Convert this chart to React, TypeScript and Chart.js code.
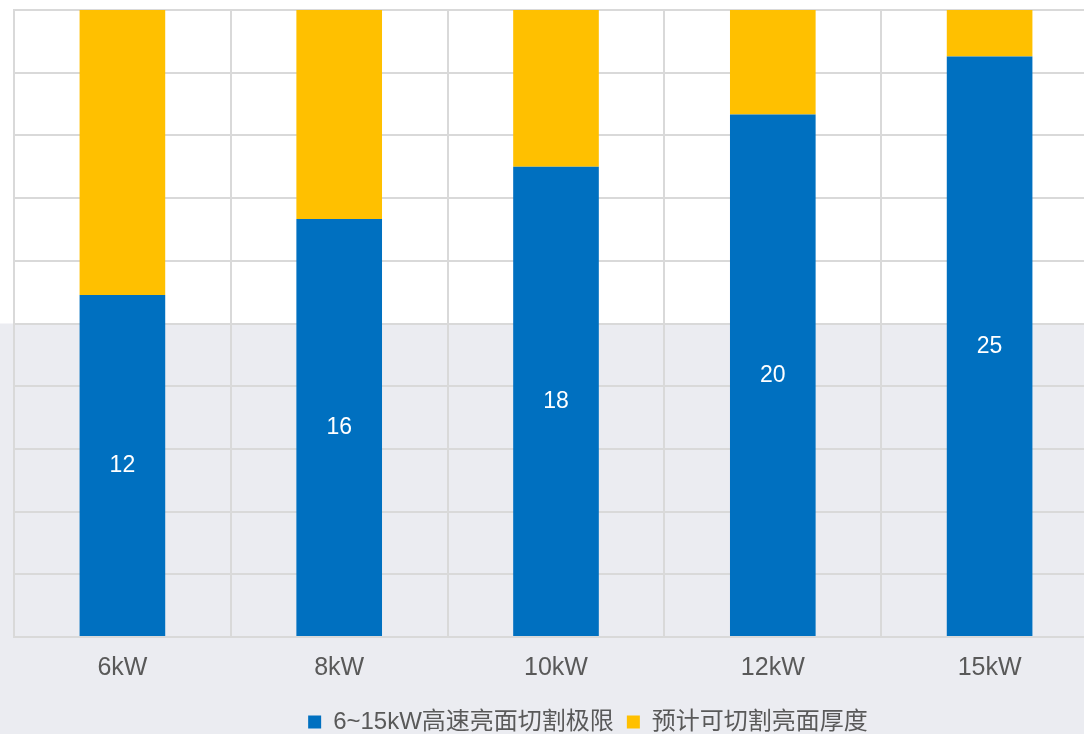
import React, { useEffect, useRef } from "react";
import { Chart, registerables } from "chart.js";

Chart.register(...registerables);

const categories = ["6kW", "8kW", "10kW", "12kW", "15kW"];
const highSpeedLimit = [12, 16, 18, 20, 25];
const expectedExtra = [10, 8, 6, 4, 2];
const seriesNames = ["6~15kW高速亮面切割极限", "预计可切割亮面厚度"];
const seriesColors = ["#0070C0", "#FFC000"];

const toShare = (part: number[], other: number[]) =>
  part.map((v, i) => (v / (v + other[i])) * 100);

const FONT = '"Liberation Sans", Arial, "Noto Sans CJK SC", sans-serif';
const GRID = "#d9d9d9";
const TEXT = "#595959";

export default function App() {
  const ref = useRef<HTMLCanvasElement>(null);

  useEffect(() => {
    if (!ref.current) return;

    const bgPlugin = {
      id: "bgBand",
      beforeDraw(chart: any) {
        const { ctx, width, height, scales } = chart;
        const y = scales.y.getPixelForValue(50);
        ctx.save();
        ctx.fillStyle = "#ffffff";
        ctx.fillRect(0, 0, width, height);
        ctx.fillStyle = "#ebecf1";
        ctx.fillRect(0, y, width, height - y);
        ctx.restore();
      },
    };

    const valuePlugin = {
      id: "valueLabels",
      afterDatasetsDraw(chart: any) {
        const { ctx } = chart;
        const meta = chart.getDatasetMeta(0);
        ctx.save();
        ctx.fillStyle = "#ffffff";
        ctx.font = `23px ${FONT}`;
        ctx.textAlign = "center";
        ctx.textBaseline = "middle";
        meta.data.forEach((el: any, i: number) => {
          const p = el.getCenterPoint();
          ctx.fillText(String(highSpeedLimit[i]), p.x, p.y);
        });
        ctx.restore();
      },
    };

    const chart = new Chart(ref.current, {
      type: "bar",
      data: {
        labels: categories,
        datasets: [
          {
            label: seriesNames[0],
            data: toShare(highSpeedLimit, expectedExtra),
            backgroundColor: seriesColors[0],
            categoryPercentage: 1,
            barPercentage: 0.395,
          },
          {
            label: seriesNames[1],
            data: toShare(expectedExtra, highSpeedLimit),
            backgroundColor: seriesColors[1],
            categoryPercentage: 1,
            barPercentage: 0.395,
          },
        ],
      },
      options: {
        responsive: false,
        devicePixelRatio: 1,
        animation: false,
        layout: { padding: { left: 14, top: 10, right: 0, bottom: 0 } },
        plugins: {
          tooltip: { enabled: false },
          legend: {
            position: "bottom",
            labels: {
              boxWidth: 13,
              boxHeight: 13,
              padding: 13,
              color: TEXT,
              font: { family: FONT, size: 24 },
            },
          },
        },
        scales: {
          x: {
            stacked: true,
            grid: { color: GRID, lineWidth: 2, drawTicks: false },
            border: { color: GRID, width: 2 },
            ticks: {
              color: TEXT,
              padding: 16,
              font: { family: FONT, size: 25 },
            },
            afterFit(scale: any) {
              scale.height = 60;
            },
          },
          y: {
            stacked: true,
            min: 0,
            max: 100,
            ticks: { display: false, stepSize: 10 },
            grid: { color: GRID, lineWidth: 2, drawTicks: false },
            border: { color: GRID, width: 2 },
          },
          yRightSpace: {
            type: "linear",
            position: "right",
            display: true,
            grid: { display: false, drawTicks: false },
            border: { display: false },
            ticks: { display: false },
            afterFit(scale: any) {
              scale.width = 64;
            },
          },
        },
      },
      plugins: [bgPlugin, valuePlugin],
    });

    return () => chart.destroy();
  }, []);

  return (
    <div
      style={{
        position: "fixed",
        left: 0,
        top: 0,
        width: "100vw",
        height: "100vh",
        overflow: "hidden",
        background: "#ebecf1",
      }}
    >
      <canvas ref={ref} width={1162} height={744} style={{ display: "block" }} />
    </div>
  );
}
